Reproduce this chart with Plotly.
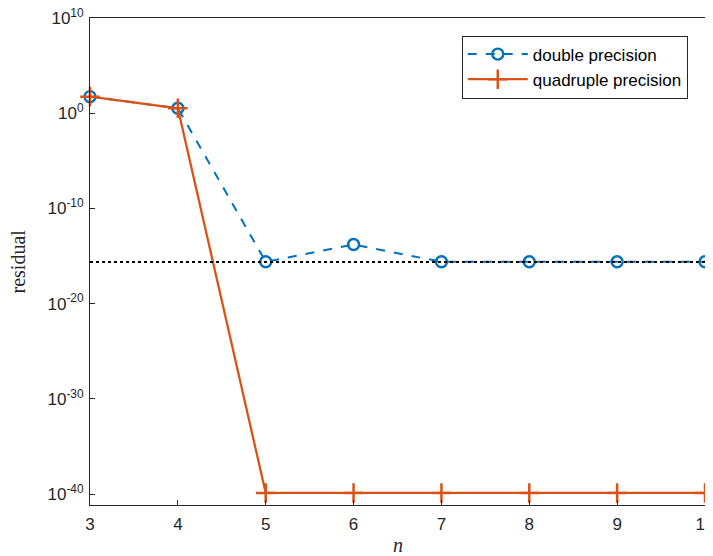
import plotly.graph_objects as go

n = [3, 4, 5, 6, 7, 8, 9, 10]
double_res = [55, 3.3, 2.5e-16, 1.6e-14, 2.5e-16, 2.5e-16, 2.5e-16, 2.5e-16]
quad_res = [55, 3.3, 1.3e-40, 1.3e-40, 1.3e-40, 1.3e-40, 1.3e-40, 1.3e-40]
eps_level = 2.3e-16
ytick_exps = [10, 0, -10, -20, -30, -40]
xticks = [3, 4, 5, 6, 7, 8, 9, 10]

blue = "#0072BD"
orange = "#D95319"
axc = "#262626"
serif = "Liberation Serif, DejaVu Serif, serif"

fig = go.Figure()
fig.add_trace(go.Scatter(
    x=n, y=double_res, mode="lines+markers", name="double precision",
    line=dict(color=blue, width=2, dash="dash"),
    marker=dict(symbol="circle-open", size=11, color=blue, line=dict(width=2.4, color=blue)),
    cliponaxis=False,
))
fig.add_trace(go.Scatter(
    x=n, y=quad_res, mode="lines+markers", name="quadruple precision",
    line=dict(color=orange, width=2.3),
    marker=dict(symbol="cross-thin-open", size=14, color=orange, line=dict(width=2.5, color=orange)),
    cliponaxis=False,
))
fig.add_trace(go.Scatter(
    x=[n[0], n[-1]], y=[eps_level, eps_level], mode="lines", showlegend=False,
    line=dict(color="black", width=2, dash="dot"),
))

# page body has an 8px default margin, so the figure is sized/offset to compensate
fig.update_layout(
    width=705, height=548,
    margin=dict(l=82, r=8, t=10, b=51, autoexpand=False),
    paper_bgcolor="white", plot_bgcolor="white",
    font=dict(family="Liberation Sans, Arial, sans-serif", size=17, color=axc),
    showlegend=True,
    legend=dict(
        x=0.972, y=0.964, xanchor="right", yanchor="top",
        bgcolor="white", bordercolor=axc, borderwidth=1,
        font=dict(size=17, color="#000000"),
        tracegroupgap=0, itemwidth=60,
    ),
    annotations=[
        dict(text="residual", xref="paper", yref="paper", x=0, y=0.5,
             xshift=-73, xanchor="center", yanchor="middle", textangle=-90,
             showarrow=False, font=dict(family=serif, size=20, color=axc)),
        dict(text="<i>n</i>", xref="paper", yref="paper", x=0.5, y=0,
             yshift=-40, xanchor="center", yanchor="middle", showarrow=False,
             font=dict(family=serif, size=20, color=axc)),
    ],
)
fig.update_xaxes(
    range=[3, 10], tickvals=xticks, ticks="inside", ticklen=5, tickwidth=1,
    tickcolor=axc, showline=True, linecolor=axc, linewidth=1, mirror=True,
    showgrid=False, zeroline=False, automargin=False, ticklabeloverflow="allow",
    ticklabelstandoff=4,
)
fig.update_yaxes(
    type="log", range=[-41.15, 10],
    tickvals=[10.0 ** e for e in ytick_exps],
    ticktext=["10<sup>%d</sup>" % e for e in ytick_exps],
    ticks="inside", ticklen=5, tickwidth=1, tickcolor=axc,
    showline=True, linecolor=axc, linewidth=1, mirror=True,
    showgrid=False, zeroline=False, automargin=False, ticklabeloverflow="allow",
    ticklabelstandoff=2,
)
fig.write_html("out.html")
